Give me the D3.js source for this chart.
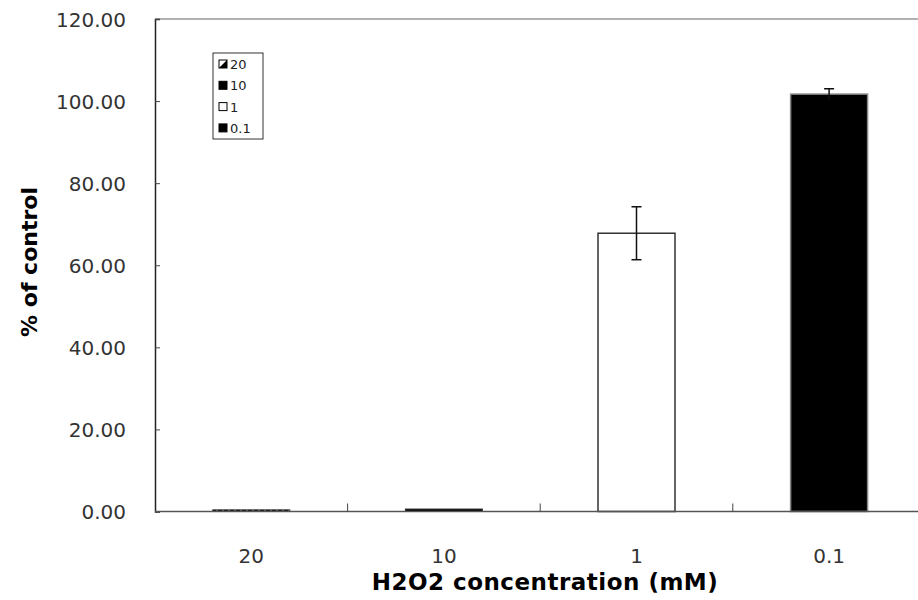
<!DOCTYPE html>
<html>
<head>
<meta charset="utf-8">
<script src="https://cdn.jsdelivr.net/npm/d3@7"></script>
<style>
  body { margin: 0; background: #fff; }
  text { font-family: "DejaVu Sans", "Liberation Sans", sans-serif; }
</style>
</head>
<body>
<div id="chart"></div>
<script>
var categories = ["20", "10", "1", "0.1"];
var values = [0.4, 0.6, 67.8, 101.7];
var errors = [0, 0, 6.45, 1.3];
var yTicks = [0, 20, 40, 60, 80, 100, 120];
var fills = ["url(#hatch)", "#000", "#fff", "#000"];

var width = 918, height = 600;
var svg = d3.select("#chart").append("svg")
  .attr("width", width).attr("height", height);

var defs = svg.append("defs");
var pat = defs.append("pattern").attr("id", "hatch")
  .attr("width", 6).attr("height", 6).attr("patternUnits", "userSpaceOnUse");
pat.append("rect").attr("width", 6).attr("height", 6).attr("fill", "#000");
pat.append("rect").attr("x", 0).attr("width", 2).attr("height", 6).attr("fill", "#777");

var x = d3.scaleBand().domain(categories).range([155, 925.4]);
var y = d3.scaleLinear().domain([0, 120]).range([511.5, 19]);

// top frame line
svg.append("line")
  .attr("x1", 155).attr("x2", 918).attr("y1", y(120)).attr("y2", y(120))
  .attr("stroke", "#999").attr("stroke-width", 1.5);

// y axis
var yAxis = d3.axisLeft(y).tickValues(yTicks).tickSize(-5).tickPadding(29)
  .tickFormat(d3.format(".2f"));
var gy = svg.append("g").attr("transform", "translate(155,0)").call(yAxis);
gy.select(".domain").attr("stroke", "#222").attr("stroke-width", 1.5);
gy.selectAll(".tick line").attr("stroke", "#444");
gy.selectAll(".tick text").attr("font-size", 20).attr("fill", "#333")
  .attr("dy", "0.36em");

// bars
var bw = 77;
svg.selectAll(".bar").data(values).enter().append("rect")
  .attr("class", "bar")
  .attr("x", function(d, i) { return x(categories[i]) + x.bandwidth() / 2 - bw / 2; })
  .attr("width", bw)
  .attr("y", function(d) { return y(d); })
  .attr("height", function(d) { return y(0) - y(d); })
  .attr("fill", function(d, i) { return fills[i]; })
  .attr("stroke", function(d, i) { return i == 3 ? "#888" : "#333"; })
  .attr("stroke-width", function(d, i) { return i < 2 ? 1 : 1.5; });

// error bars
svg.selectAll(".err").data(values).enter().append("g")
  .attr("class", "err")
  .each(function(d, i) {
    if (errors[i] <= 0) return;
    var cx = x(categories[i]) + x.bandwidth() / 2;
    var g = d3.select(this);
    var top = y(d + errors[i]), bot = y(d - errors[i]);
    g.append("line").attr("x1", cx).attr("x2", cx).attr("y1", top).attr("y2", bot)
      .attr("stroke", "#111").attr("stroke-width", 1.5);
    g.append("line").attr("x1", cx - 5).attr("x2", cx + 5).attr("y1", top).attr("y2", top)
      .attr("stroke", "#111").attr("stroke-width", 1.5);
    if (i != 3) {
      g.append("line").attr("x1", cx - 5).attr("x2", cx + 5).attr("y1", bot).attr("y2", bot)
        .attr("stroke", "#111").attr("stroke-width", 1.5);
    }
  });

// x axis
var xAxis = d3.axisBottom(x).tickSize(0).tickPadding(37);
var gx = svg.append("g").attr("transform", "translate(0," + y(0) + ")").call(xAxis);
gx.select(".domain").remove();
gx.selectAll(".tick text").attr("font-size", 20).attr("fill", "#333");
svg.append("line").attr("x1", 155).attr("x2", 918).attr("y1", y(0)).attr("y2", y(0))
  .attr("stroke", "#555").attr("stroke-width", 1.5);
svg.selectAll(".xsep").data(categories.slice(1)).enter().append("line")
  .attr("class", "xsep")
  .attr("x1", function(d) { return x(d); }).attr("x2", function(d) { return x(d); })
  .attr("y1", y(0) - 8).attr("y2", y(0))
  .attr("stroke", "#444").attr("stroke-width", 1);

// axis titles
svg.append("text").attr("x", 545).attr("y", 590).attr("text-anchor", "middle")
  .attr("font-size", 23).attr("font-weight", "bold").attr("letter-spacing", 0.5)
  .text("H2O2 concentration (mM)");
svg.append("text").attr("transform", "translate(37,262) rotate(-90)")
  .attr("text-anchor", "middle").attr("font-size", 22).attr("font-weight", "bold")
  .text("% of control");

// legend
var lg = svg.append("g").attr("transform", "translate(213,53)");
lg.append("rect").attr("width", 50).attr("height", 86)
  .attr("fill", "#fff").attr("stroke", "#333").attr("stroke-width", 1);
var items = lg.selectAll(".li").data(categories).enter().append("g")
  .attr("transform", function(d, i) { return "translate(6," + (7 + i * 21.3) + ")"; });
items.each(function(d, i) {
  var g = d3.select(this);
  if (i == 0) {
    g.append("rect").attr("width", 8).attr("height", 8).attr("fill", "#fff")
      .attr("stroke", "#000").attr("stroke-width", 1);
    g.append("path").attr("d", "M8,0 L8,8 L0,8 Z").attr("fill", "#000");
  } else {
    g.append("rect").attr("width", 8).attr("height", 8)
      .attr("fill", fills[i]).attr("stroke", "#000").attr("stroke-width", 1);
  }
  g.append("text").attr("x", 11).attr("y", 9).attr("font-size", 13)
    .attr("fill", "#222").text(d);
});
</script>
</body>
</html>
